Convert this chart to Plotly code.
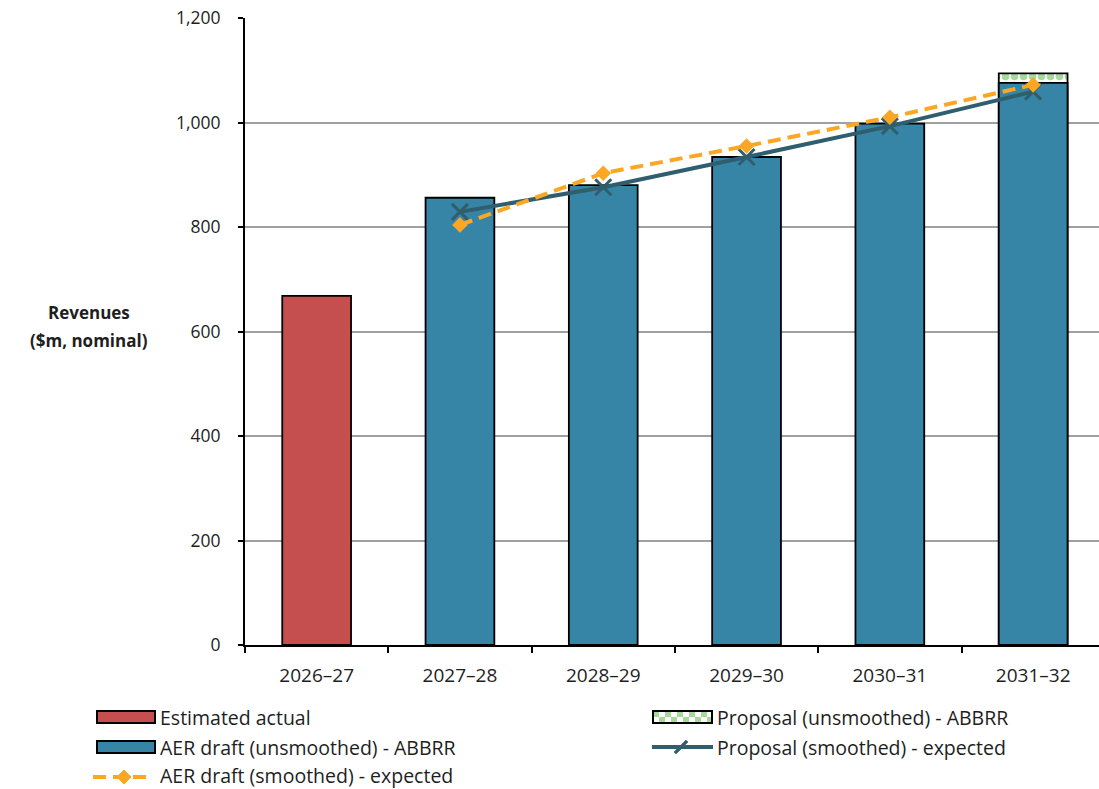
import plotly.graph_objects as go

# ---- data ($m, nominal) ----
years = ["2026–27", "2027–28", "2028–29", "2029–30", "2030–31", "2031–32"]
estimated_actual = [668, None, None, None, None, None]
aer_draft_unsmoothed = [None, 856, 880, 934, 998, 1076]
proposal_unsmoothed = [None, None, None, None, None, 1094]
aer_draft_smoothed = [None, 804, 903, 955, 1010, 1072]
proposal_smoothed = [None, 829, 876, 934, 993, 1059]
y_ticks = [0, 200, 400, 600, 800, 1000, 1200]

# ---- styling ----
W, H = 1099, 789
FONT = "Open Sans"
TXT = "#1E1E1E"
RED = "#C54F4F"
BLUE = "#3785A6"
GREEN = "#A6D99B"
TEAL = "#2F5E6E"
ORANGE = "#FBA724"
GRID = "#A0A0A0"

# plot area in pixels (margins are zero so paper coords map straight to pixels)
PL, PR, PT, PB = 245, W, 18, 645


def px(x):
    return x / W


def py(y):
    return 1 - y / H


fig = go.Figure()

fig.add_bar(
    x=years, y=proposal_unsmoothed, name="Proposal (unsmoothed) - ABBRR",
    width=0.48,
    marker=dict(color="white", line=dict(color="black", width=1.8),
                pattern=dict(shape=".", fgcolor=GREEN, bgcolor="white",
                             size=9, solidity=0.55, fillmode="replace")),
    showlegend=False,
)
fig.add_bar(
    x=years, y=estimated_actual, name="Estimated actual", width=0.48,
    marker=dict(color=RED, line=dict(color="black", width=1.8)),
    showlegend=False,
)
fig.add_bar(
    x=years, y=aer_draft_unsmoothed, name="AER draft (unsmoothed) - ABBRR",
    width=0.48,
    marker=dict(color=BLUE, line=dict(color="black", width=1.8)),
    showlegend=False,
)
fig.add_scatter(
    x=years, y=proposal_smoothed, name="Proposal (smoothed) - expected",
    mode="lines+markers",
    line=dict(color=TEAL, width=4),
    marker=dict(symbol="x-thin", size=16, line=dict(color=TEAL, width=3)),
    showlegend=False,
)
fig.add_scatter(
    x=years, y=aer_draft_smoothed, name="AER draft (smoothed) - expected",
    mode="lines+markers",
    line=dict(color=ORANGE, width=4, dash="13px,7px"),
    marker=dict(symbol="diamond", size=12, color=ORANGE),
    showlegend=False,
)

# ---- hand-drawn legend ----
shapes = []
annotations = []
LEG_SIZE = 19.5


def legend_text(x, y, text):
    annotations.append(dict(
        x=px(x), y=py(y), xref="paper", yref="paper", text=text,
        showarrow=False, xanchor="left", yanchor="middle", borderpad=0,
        font=dict(family=FONT, size=LEG_SIZE, color=TXT)))


def swatch(x0, y0, x1, y1, fill):
    shapes.append(dict(type="rect", xref="paper", yref="paper",
                       x0=px(x0), x1=px(x1), y0=py(y1), y1=py(y0),
                       fillcolor=fill, line=dict(color="black", width=2)))


# column 1
swatch(97, 711, 155, 723, RED)
legend_text(159, 717, "Estimated actual")
swatch(97, 741, 155, 753, BLUE)
legend_text(159, 747, "AER draft (unsmoothed) - ABBRR")
shapes.append(dict(type="line", xref="paper", yref="paper",
                   x0=px(93), x1=px(153), y0=py(777), y1=py(777),
                   line=dict(color=ORANGE, width=4, dash="13px,7px")))
d = 7
shapes.append(dict(type="path", xref="paper", yref="paper",
                   path=(f"M {px(124)},{py(777 - d)} L {px(124 + d)},{py(777)} "
                         f"L {px(124)},{py(777 + d)} L {px(124 - d)},{py(777)} Z"),
                   fillcolor=ORANGE, line=dict(color=ORANGE, width=1)))
legend_text(159, 775, "AER draft (smoothed) - expected")

# column 2: checkered swatch
gx0, gx1, gy0, gy1 = 653, 712, 711, 723
shapes.append(dict(type="rect", xref="paper", yref="paper",
                   x0=px(gx0), x1=px(gx1), y0=py(gy1), y1=py(gy0),
                   fillcolor="white", line=dict(width=0)))
sq = 6
for row in range(2):
    for col in range(10):
        if (row + col) % 2 == 0:
            cx0 = gx0 + col * sq
            cx1 = min(cx0 + sq, gx1)
            cy0 = gy0 + row * sq
            shapes.append(dict(type="rect", xref="paper", yref="paper",
                               x0=px(cx0), x1=px(cx1), y0=py(cy0 + sq), y1=py(cy0),
                               fillcolor=GREEN, line=dict(width=0)))
shapes.append(dict(type="rect", xref="paper", yref="paper",
                   x0=px(gx0), x1=px(gx1), y0=py(gy1), y1=py(gy0),
                   fillcolor="rgba(0,0,0,0)", line=dict(color="black", width=2)))
legend_text(716, 717, "Proposal (unsmoothed) - ABBRR")

shapes.append(dict(type="line", xref="paper", yref="paper",
                   x0=px(652), x1=px(713), y0=py(747), y1=py(747),
                   line=dict(color=TEAL, width=4)))
k = 6
for a, b in ((-k, k), (k, -k)):
    shapes.append(dict(type="line", xref="paper", yref="paper",
                       x0=px(681 + a), x1=px(681 - a), y0=py(747 + b), y1=py(747 - b),
                       line=dict(color=TEAL, width=3)))
legend_text(716, 747, "Proposal (smoothed) - expected")

# y-axis title, one annotation per line
for text, yy in (("<b>Revenues</b>", 312), ("<b>($m, nominal)</b>", 340)):
    annotations.append(dict(
        x=px(89), y=py(yy), xref="paper", yref="paper", text=text,
        showarrow=False, xanchor="center", yanchor="middle",
        font=dict(family=FONT, size=17, color=TXT)))

cat_px = 143.3
span = (PR - PL) / cat_px

fig.update_layout(
    width=W, height=H,
    margin=dict(l=0, r=0, t=0, b=0, pad=0, autoexpand=False),
    paper_bgcolor="white", plot_bgcolor="white",
    barmode="overlay",
    showlegend=False,
    font=dict(family=FONT, size=17, color=TXT),
    shapes=shapes,
    annotations=annotations,
    xaxis=dict(
        domain=[px(PL), px(PR)],
        automargin=False,
        type="category",
        categoryorder="array", categoryarray=years,
        range=[-0.5, -0.5 + span],
        showline=True, linecolor="black", linewidth=1.8,
        ticks="outside", ticklen=6, tickwidth=1.8, tickcolor="black",
        tickson="boundaries",
        ticklabelstandoff=12,
        showgrid=False,
        tickfont=dict(family=FONT, size=19, color=TXT),
    ),
    yaxis=dict(
        domain=[py(PB), py(PT)],
        automargin=False,
        range=[0, 1200],
        tickvals=y_ticks,
        ticktext=[f"{v:,}" for v in y_ticks],
        showline=True, linecolor="black", linewidth=1.8,
        ticks="outside", ticklen=5, tickwidth=1.8, tickcolor="black",
        ticklabelstandoff=14,
        showgrid=True, gridcolor=GRID, gridwidth=1.6,
        zeroline=False,
        tickfont=dict(family=FONT, size=17.5, color=TXT),
    ),
)

fig.write_html("out.html")
